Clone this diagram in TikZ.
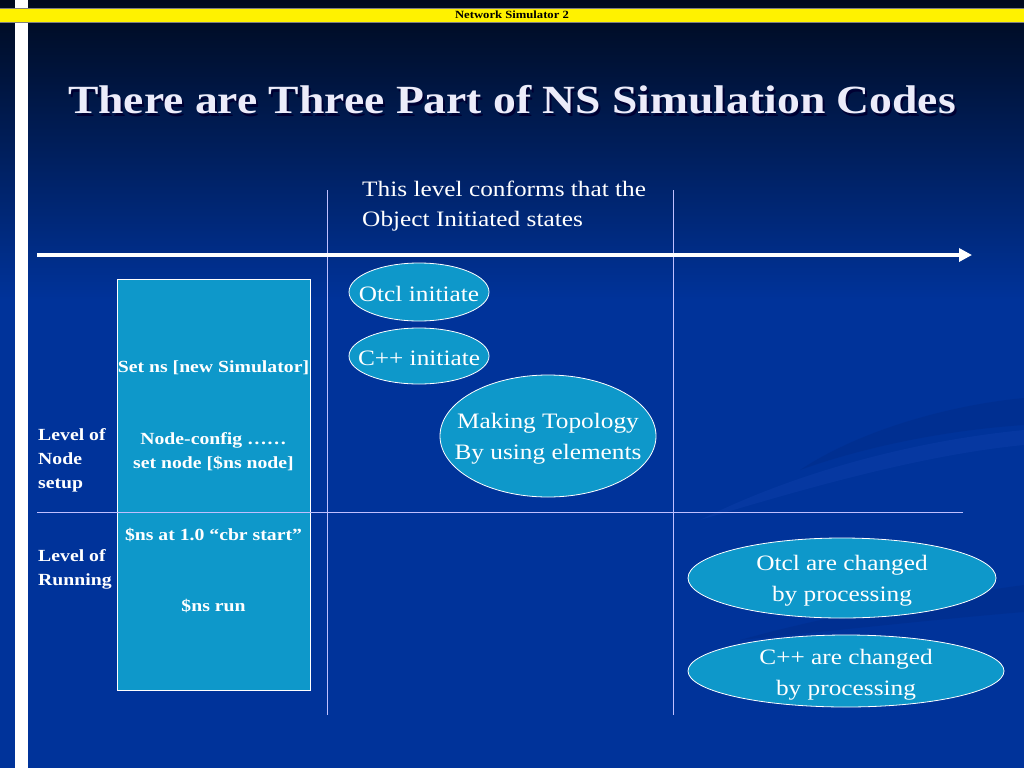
\documentclass[tikz,border=0pt]{standalone}
\usepackage{fontspec}
\setmainfont{Liberation Serif}
\usetikzlibrary{shapes.geometric,arrows.meta}
\definecolor{bgtop}{HTML}{000A1E}
\definecolor{bgblue}{HTML}{00339A}
\definecolor{boxfill}{HTML}{0E98CA}
\definecolor{swooshd}{HTML}{002E8E}
\definecolor{swooshl}{HTML}{0A3CA6}
\definecolor{titlew}{HTML}{ECECFA}
\tikzset{
  bub/.style={ellipse,draw=white,line width=0.8pt,fill=boxfill,inner sep=0pt},
  bubtxt/.style={text=white,align=center,inner sep=0pt,xscale=1.15,font=\fontsize{22}{31}\selectfont},
  boxtxt/.style={text=white,font=\bfseries\fontsize{17}{24}\selectfont,align=center,xscale=1.16},
  lbl/.style={text=white,font=\bfseries\fontsize{17}{24}\selectfont,align=left,anchor=west,xscale=1.16,inner sep=0pt},
  sep/.style={draw=white!75!blue,line width=0.8pt},
  ttl/.style={font=\bfseries\fontsize{40}{44}\selectfont,xscale=1.14}
}
\begin{document}
\begin{tikzpicture}[x=1pt,y=-1pt]
\useasboundingbox (0,0) rectangle (1024,768);
% background
\shade[top color=bgtop,bottom color=bgblue] (0,0) rectangle (1024,300);
\fill[bgblue] (0,299) rectangle (1024,768);
% faint swooshes
\fill[swooshd,opacity=0.7] (800,470) .. controls (860,430) and (950,405) .. (1024,398) -- (1024,425) .. controls (950,430) and (870,445) .. (800,470) -- cycle;
\fill[swooshl,opacity=0.6] (700,520) .. controls (800,470) and (920,440) .. (1024,430) -- (1024,445) .. controls (920,455) and (800,490) .. (700,520) -- cycle;
\fill[swooshd,opacity=0.7] (740,640) .. controls (840,612) and (950,595) .. (1024,585) -- (1024,612) .. controls (950,618) and (840,630) .. (740,640) -- cycle;
% white left stripe
\fill[white] (15,0) rectangle (28,768);
% yellow banner
\fill[yellow] (0,8) rectangle (1024,22);
\draw[gray,line width=0.6pt] (0,8) -- (1024,8) (0,22) -- (1024,22);
\node[font=\bfseries\fontsize{11}{12}\selectfont,text=black,xscale=1.15] (banner) at (512,15) {Network Simulator 2};
% title
\node[ttl,text=black!80!blue] at (514,102.5) {There are Three Part of NS Simulation Codes};
\node[ttl,text=titlew] (title) at (512,100) {There are Three Part of NS Simulation Codes};
% top text
\node[text=white,font=\fontsize{22}{30}\selectfont,align=left,anchor=north west,xscale=1.15,inner sep=0pt] (conf) at (362,181) {This level conforms that the\\Object Initiated states};
% left box
\node[draw=white,line width=0.8pt,fill=boxfill,minimum width=193pt,minimum height=411pt,inner sep=0pt] (box) at (213.5,484.5) {};
\node[boxtxt] (t1) at (213.5,368) {Set ns [new Simulator]};
\node[boxtxt] (t2) at (213.5,452) {Node-config ……\\set node [\$ns node]};
\node[boxtxt] (t3) at (213.5,535) {\$ns at 1.0 “cbr start”};
\node[boxtxt] (t4) at (213.5,606) {\$ns run};
% grid lines
\coordinate (v1t) at (327,190); \coordinate (v1b) at (327,715);
\coordinate (v2t) at (673,190); \coordinate (v2b) at (673,715);
\coordinate (hl) at (37,512); \coordinate (hr) at (963,512);
\draw[sep] (v1t) -- (v1b);
\draw[sep] (v2t) -- (v2b);
\draw[sep] (hl) -- (hr);
\coordinate (al) at (37,255); \coordinate (ar) at (972,255);
\draw[white,line width=4pt,-{Triangle[length=13pt,width=13pt]}] (al) -- (ar);
% left labels
\node[lbl] (l1) at (38,460) {Level of\\Node\\setup};
\node[lbl] (l2) at (38,569) {Level of\\Running};
% ellipses
\node[bub,minimum width=140pt,minimum height=58pt] (e1) at (419,292) {};
\node[bubtxt] (e1t) at (419,294) {Otcl initiate};
\node[bub,minimum width=140pt,minimum height=56pt] (e2) at (419,356) {};
\node[bubtxt] (e2t) at (419,358) {C++ initiate};
\node[bub,minimum width=216pt,minimum height=122pt] (e3) at (548,436) {};
\node[bubtxt] (e3t) at (548,439) {Making Topology\\By using elements};
\node[bub,minimum width=308pt,minimum height=80pt] (e4) at (842,578) {};
\node[bubtxt] (e4t) at (842,581) {Otcl are changed\\by processing};
\node[bub,minimum width=316pt,minimum height=72pt] (e5) at (846,671) {};
\node[bubtxt] (e5t) at (846,674.5) {C++ are changed\\by processing};
\end{tikzpicture}
\end{document}
